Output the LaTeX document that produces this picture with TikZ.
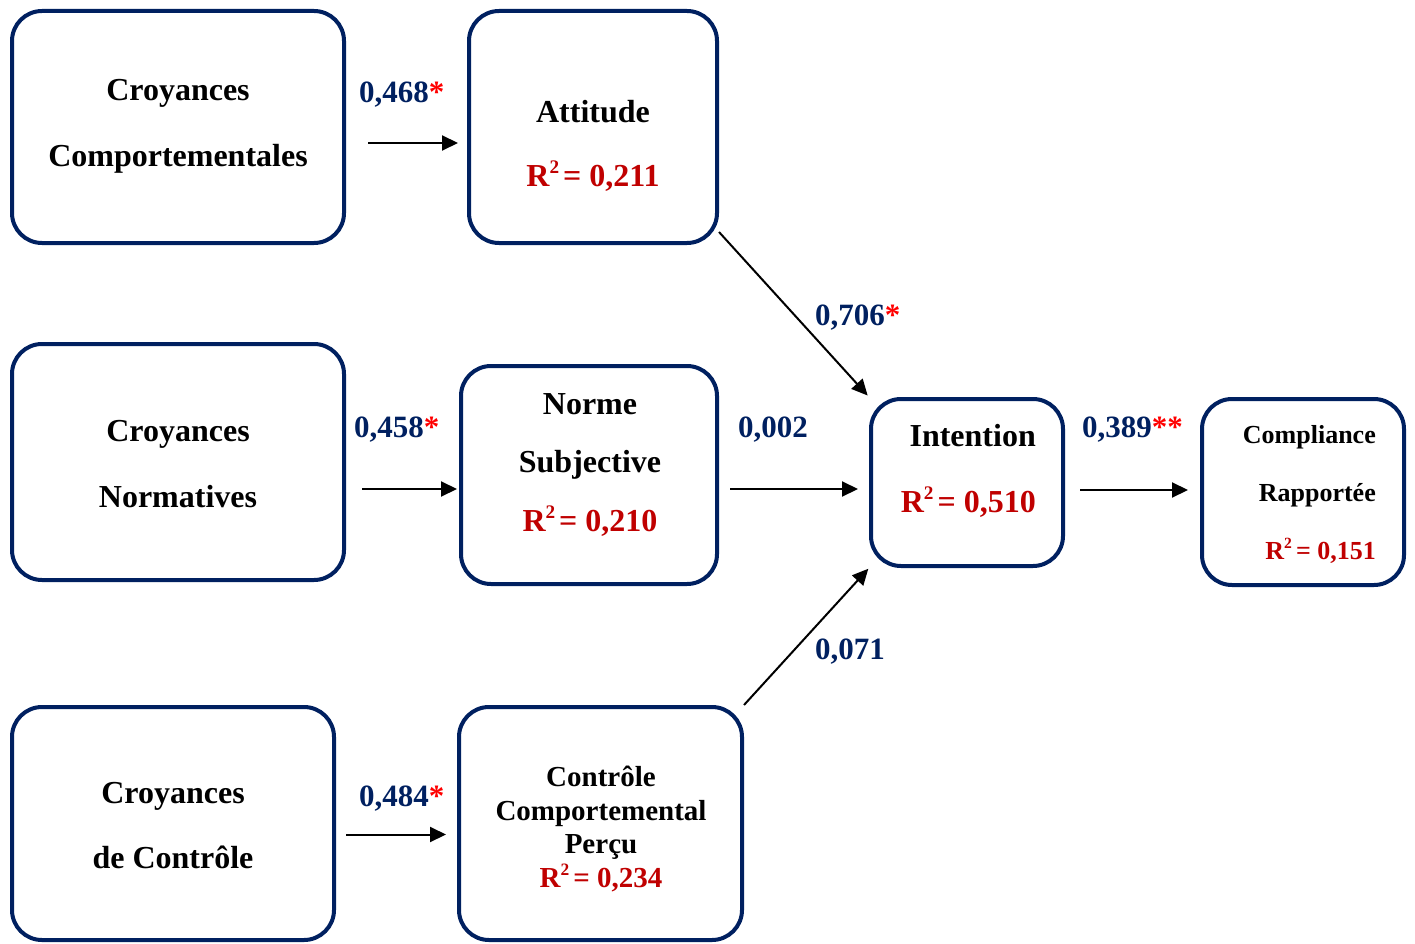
\documentclass[tikz,border=0pt]{standalone}
\usepackage{fontspec}
\setmainfont{Liberation Serif}
\usetikzlibrary{arrows.meta}
\definecolor{boxnavy}{HTML}{002060}
\definecolor{coefblue}{HTML}{002060}
\definecolor{rsqred}{HTML}{C00000}
\definecolor{starred}{HTML}{FF0000}
% R-squared value and path coefficient helpers
\newcommand{\rsq}[1]{\textcolor{rsqred}{R\raisebox{0.42em}{\scalebox{0.6}{2}}\kern4pt= #1}}
\newcommand{\coef}[2]{\textcolor{coefblue}{#1}\textcolor{starred}{#2}}

\begin{document}
\begin{tikzpicture}[x=1pt,y=-1pt,
  box/.style={draw=boxnavy, line width=4pt, rounded corners=30pt, fill=white, inner sep=0pt},
  txt/.style={font=\bfseries\fontsize{32}{66}\selectfont, align=center, inner sep=0pt},
  coeff/.style={font=\bfseries\fontsize{31}{36}\selectfont, inner sep=0pt, anchor=base west},
  arr/.style={-{Triangle[length=16pt,width=15pt]}, line width=2pt, black}]
\useasboundingbox (0,0) rectangle (1415,944);

% construct boxes
\node[box, minimum width=332pt, minimum height=232pt] (cc)   at (178,127)   {};
\node[box, minimum width=248pt, minimum height=232pt] (att)  at (593,127)   {};
\node[box, minimum width=332pt, minimum height=236pt] (cn)   at (178,462)   {};
\node[box, minimum width=256pt, minimum height=218pt] (ns)   at (589,475)   {};
\node[box, minimum width=192pt, minimum height=167pt] (int)  at (967,482.5) {};
\node[box, minimum width=202pt, minimum height=186pt] (comp) at (1303,492)  {};
\node[box, minimum width=322pt, minimum height=233pt] (cdc)  at (173,823.5) {};
\node[box, minimum width=283pt, minimum height=233pt] (ccp)  at (600.5,823.5) {};

% box contents
\node[txt] (cctxt) at (178,126) {Croyances\\Comportementales};
\node[txt] (atttxt) at (593,146) {Attitude\\[-2pt]\rsq{0,211}};
\node[txt] (cntxt) at (178,464) {Croyances\\Normatives};
\node[txt] (nstxt) at (590,465) {Norme\\[-8pt]Subjective\\[-7pt]\rsq{0,210}};
\node[txt, align=right, anchor=east] (inttxt) at (1036,471) {Intention\\\rsq{0,510}};
\node[txt, align=right, anchor=east, font=\bfseries\fontsize{26}{58}\selectfont] (comptxt) at (1376,494) {Compliance\\Rapportée\\\rsq{0,151}};
\node[txt] (cdctxt) at (173,826) {Croyances\\[-1pt]de Contrôle};
\node[txt, font=\bfseries\fontsize{29}{33.5}\selectfont] (ccptxt) at (601,829) {Contrôle\\Comportemental\\Perçu\\\rsq{0,234}};

% paths between constructs
\draw[arr, shorten <=22pt, shorten >=9pt] ([yshift=-16pt]cc.east) -- ([yshift=-16pt]att.west);
\coordinate (a2) at ([yshift=-27pt]cn.east);
\draw[arr, shorten <=16pt, shorten >=2pt] (a2) -- (a2 -| ns.west);
\coordinate (a3) at ([yshift=-14pt]ns.east);
\draw[arr, shorten <=11pt, shorten >=11pt] (a3) -- (a3 -| int.west);
\coordinate (a4) at ([yshift=-7.5pt]int.east);
\draw[arr, shorten <=15pt, shorten >=12pt] (a4) -- (a4 -| comp.west);
\draw[arr, shorten >=2pt] ([yshift=13pt]att.south east) -- (int.north west);
\draw[arr, shorten >=1pt] (ccp.north east) -- (int.south west);
\coordinate (a7) at ([yshift=-11pt]cdc.east);
\draw[arr, shorten <=10pt, shorten >=11pt] (a7) -- (a7 -| ccp.west);

% path coefficients
\node[coeff] (c1) at (359,103)  {\coef{0,468}{*}};
\node[coeff] (c2) at (815,325)  {\coef{0,706}{*}};
\node[coeff] (c3) at (354,437)  {\coef{0,458}{*}};
\node[coeff] (c4) at (738,437)  {\coef{0,002}{}};
\node[coeff] (c5) at (1082,437) {\coef{0,389}{**}};
\node[coeff] (c6) at (815,659)  {\coef{0,071}{}};
\node[coeff] (c7) at (359,806)  {\coef{0,484}{*}};
\end{tikzpicture}
\end{document}
